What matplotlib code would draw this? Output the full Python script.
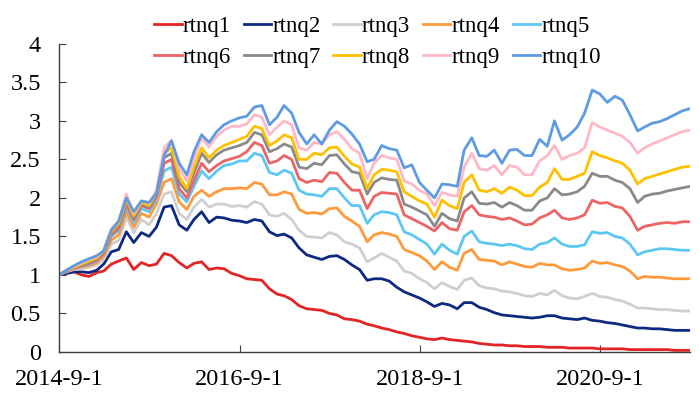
import numpy as np
import pandas as pd
import matplotlib
matplotlib.use('Agg')
import matplotlib.pyplot as plt
import matplotlib.dates as mdates

# month-end points, 2014-08-31 .. 2021-08-31 (85 values per series)
dates = pd.date_range('2014-08-31', periods=85, freq='ME')

rtnq1 = [1.00, 1.02, 1.04, 1.00, 0.98, 1.03, 1.05, 1.14, 1.18, 1.22,
         1.07, 1.16, 1.12, 1.14, 1.28, 1.25, 1.16, 1.09, 1.15, 1.17,
         1.07, 1.09, 1.08, 1.02, 0.99, 0.95, 0.94, 0.93, 0.82, 0.75,
         0.73, 0.68, 0.60, 0.56, 0.55, 0.54, 0.50, 0.48, 0.43, 0.42,
         0.40, 0.36, 0.34, 0.31, 0.29, 0.26, 0.24, 0.21, 0.19, 0.17,
         0.16, 0.18, 0.16, 0.15, 0.14, 0.13, 0.11, 0.10, 0.09, 0.09,
         0.08, 0.08, 0.07, 0.07, 0.07, 0.06, 0.06, 0.06, 0.05, 0.05,
         0.05, 0.05, 0.04, 0.04, 0.04, 0.04, 0.03, 0.03, 0.03, 0.03,
         0.03, 0.03, 0.02, 0.02, 0.02]
rtnq2 = [1.00, 1.02, 1.04, 1.04, 1.03, 1.06, 1.14, 1.30, 1.33, 1.56,
         1.42, 1.55, 1.50, 1.62, 1.88, 1.90, 1.65, 1.58, 1.72, 1.82,
         1.68, 1.75, 1.74, 1.71, 1.70, 1.68, 1.72, 1.70, 1.56, 1.51,
         1.53, 1.48, 1.35, 1.26, 1.23, 1.20, 1.24, 1.25, 1.20, 1.13,
         1.07, 0.93, 0.95, 0.95, 0.92, 0.84, 0.78, 0.74, 0.70, 0.65,
         0.59, 0.63, 0.61, 0.56, 0.64, 0.64, 0.58, 0.55, 0.51, 0.48,
         0.47, 0.46, 0.45, 0.44, 0.45, 0.47, 0.47, 0.44, 0.43, 0.42,
         0.44, 0.41, 0.40, 0.38, 0.37, 0.35, 0.33, 0.31, 0.31, 0.30,
         0.30, 0.29, 0.28, 0.28, 0.28]
rtnq3 = [1.00, 1.04, 1.07, 1.08, 1.10, 1.13, 1.20, 1.40, 1.45, 1.75,
         1.55, 1.72, 1.65, 1.80, 2.05, 2.08, 1.80, 1.72, 1.88, 1.98,
         1.88, 1.92, 1.92, 1.89, 1.90, 1.88, 1.95, 1.92, 1.78, 1.76,
         1.80, 1.72, 1.58, 1.50, 1.49, 1.48, 1.55, 1.52, 1.43, 1.40,
         1.35, 1.17, 1.22, 1.28, 1.23, 1.18, 1.05, 1.02, 0.95, 0.90,
         0.82, 0.90, 0.85, 0.81, 0.93, 0.96, 0.86, 0.83, 0.82, 0.79,
         0.78, 0.76, 0.73, 0.72, 0.76, 0.74, 0.80, 0.73, 0.70, 0.69,
         0.72, 0.76, 0.72, 0.71, 0.68, 0.66, 0.62, 0.57, 0.57, 0.56,
         0.55, 0.55, 0.54, 0.53, 0.53]
rtnq4 = [1.00, 1.05, 1.08, 1.10, 1.12, 1.16, 1.24, 1.45, 1.52, 1.82,
         1.62, 1.80, 1.75, 1.92, 2.20, 2.25, 1.95, 1.85, 2.02, 2.10,
         2.02, 2.08, 2.12, 2.12, 2.13, 2.12, 2.20, 2.18, 2.04, 2.04,
         2.08, 2.05, 1.85, 1.80, 1.81, 1.79, 1.86, 1.87, 1.76, 1.70,
         1.63, 1.43, 1.52, 1.55, 1.53, 1.50, 1.33, 1.29, 1.25, 1.18,
         1.07, 1.17, 1.10, 1.06, 1.28, 1.33, 1.20, 1.19, 1.18, 1.13,
         1.17, 1.14, 1.11, 1.10, 1.15, 1.13, 1.13, 1.08, 1.06, 1.07,
         1.09, 1.18, 1.15, 1.16, 1.13, 1.11, 1.05, 0.95, 0.98, 0.97,
         0.97, 0.96, 0.95, 0.95, 0.95]
rtnq5 = [1.00, 1.05, 1.09, 1.11, 1.14, 1.18, 1.27, 1.50, 1.58, 1.88,
         1.68, 1.86, 1.82, 1.98, 2.35, 2.40, 2.05, 1.95, 2.15, 2.35,
         2.25, 2.35, 2.42, 2.44, 2.48, 2.48, 2.58, 2.55, 2.33, 2.30,
         2.36, 2.32, 2.10, 2.05, 2.04, 2.02, 2.12, 2.12, 2.00, 1.90,
         1.90, 1.67, 1.78, 1.82, 1.81, 1.78, 1.56, 1.52, 1.46, 1.40,
         1.27, 1.40, 1.32, 1.27, 1.50, 1.57, 1.43, 1.41, 1.40, 1.38,
         1.40, 1.38, 1.34, 1.33, 1.40, 1.42, 1.48, 1.40, 1.37, 1.37,
         1.39, 1.56, 1.54, 1.55, 1.50, 1.48, 1.40, 1.26, 1.30, 1.32,
         1.34, 1.34, 1.33, 1.32, 1.32]
rtnq6 = [1.00, 1.05, 1.09, 1.12, 1.15, 1.19, 1.28, 1.52, 1.61, 1.92,
         1.72, 1.90, 1.86, 2.02, 2.45, 2.50, 2.12, 2.00, 2.22, 2.45,
         2.34, 2.42, 2.48, 2.51, 2.54, 2.60, 2.72, 2.68, 2.45, 2.48,
         2.55, 2.50, 2.25, 2.20, 2.23, 2.21, 2.33, 2.32, 2.20, 2.10,
         2.10, 1.86, 2.02, 2.07, 2.06, 2.05, 1.78, 1.73, 1.68, 1.63,
         1.57, 1.68, 1.60, 1.58, 1.82, 1.90, 1.78, 1.76, 1.75, 1.72,
         1.74, 1.70, 1.65, 1.66, 1.74, 1.78, 1.84, 1.74, 1.72, 1.74,
         1.78, 1.97, 1.93, 1.94, 1.89, 1.87, 1.76, 1.58, 1.63, 1.65,
         1.67, 1.68, 1.67, 1.69, 1.69]
rtnq7 = [1.00, 1.05, 1.10, 1.13, 1.16, 1.21, 1.30, 1.55, 1.65, 1.96,
         1.75, 1.92, 1.88, 2.05, 2.52, 2.58, 2.20, 2.08, 2.32, 2.58,
         2.46, 2.56, 2.62, 2.65, 2.68, 2.72, 2.85, 2.82, 2.60, 2.64,
         2.70, 2.66, 2.40, 2.38, 2.45, 2.43, 2.55, 2.56, 2.44, 2.34,
         2.32, 2.05, 2.20, 2.26, 2.24, 2.23, 1.92, 1.88, 1.83, 1.78,
         1.63, 1.80, 1.73, 1.70, 2.00, 2.08, 1.93, 1.92, 1.94, 1.88,
         1.94, 1.90, 1.84, 1.84, 1.96, 2.00, 2.12, 2.04, 2.05, 2.08,
         2.15, 2.32, 2.28, 2.28, 2.23, 2.20, 2.12, 1.94, 2.02, 2.05,
         2.06, 2.09, 2.11, 2.13, 2.15]
rtnq8 = [1.00, 1.06, 1.10, 1.14, 1.18, 1.22, 1.31, 1.56, 1.67, 1.98,
         1.77, 1.94, 1.90, 2.07, 2.58, 2.65, 2.28, 2.12, 2.40, 2.65,
         2.52, 2.62, 2.68, 2.72, 2.76, 2.80, 2.93, 2.90, 2.68, 2.74,
         2.82, 2.78, 2.50, 2.50, 2.58, 2.56, 2.65, 2.66, 2.54, 2.44,
         2.40, 2.12, 2.30, 2.37, 2.36, 2.34, 2.08, 2.02, 1.96, 1.92,
         1.75, 1.97, 1.90, 1.86, 2.20, 2.30, 2.10, 2.08, 2.12, 2.06,
         2.14, 2.10, 2.03, 2.03, 2.14, 2.20, 2.38, 2.24, 2.24, 2.28,
         2.32, 2.60, 2.55, 2.52, 2.48, 2.45, 2.36, 2.18, 2.25, 2.28,
         2.31, 2.34, 2.37, 2.40, 2.41]
rtnq9 = [1.00, 1.06, 1.11, 1.16, 1.20, 1.24, 1.32, 1.60, 1.70, 2.05,
         1.80, 1.96, 1.93, 2.10, 2.65, 2.75, 2.38, 2.22, 2.50, 2.78,
         2.66, 2.80, 2.88, 2.93, 2.93, 2.96, 3.08, 3.05, 2.82, 2.92,
         3.00, 2.95, 2.65, 2.62, 2.72, 2.70, 2.82, 2.86, 2.76, 2.64,
         2.58, 2.25, 2.45, 2.55, 2.52, 2.50, 2.22, 2.18, 2.10, 2.05,
         1.90, 2.07, 2.04, 2.02, 2.40, 2.58, 2.38, 2.36, 2.42, 2.30,
         2.42, 2.40, 2.30, 2.30, 2.48, 2.55, 2.68, 2.50, 2.55, 2.58,
         2.65, 2.98, 2.92, 2.88, 2.84, 2.80, 2.72, 2.58, 2.65, 2.70,
         2.74, 2.78, 2.82, 2.86, 2.88]
rtnq10 = [1.00, 1.06, 1.12, 1.17, 1.21, 1.25, 1.31, 1.58, 1.70, 2.00,
          1.82, 1.96, 1.94, 2.06, 2.55, 2.74, 2.45, 2.30, 2.60, 2.82,
          2.72, 2.86, 2.95, 3.00, 3.04, 3.06, 3.18, 3.20, 2.95, 3.05,
          3.20, 3.10, 2.85, 2.70, 2.82, 2.70, 2.88, 2.99, 2.93, 2.83,
          2.70, 2.47, 2.50, 2.68, 2.64, 2.62, 2.39, 2.43, 2.20, 2.10,
          2.00, 2.18, 2.17, 2.15, 2.62, 2.78, 2.55, 2.54, 2.62, 2.45,
          2.62, 2.63, 2.55, 2.55, 2.76, 2.67, 3.00, 2.75, 2.82, 2.92,
          3.10, 3.40, 3.35, 3.24, 3.32, 3.27, 3.08, 2.87, 2.92, 2.97,
          2.99, 3.03, 3.08, 3.13, 3.16]

names = ['rtnq1', 'rtnq2', 'rtnq3', 'rtnq4', 'rtnq5',
         'rtnq6', 'rtnq7', 'rtnq8', 'rtnq9', 'rtnq10']
series = [rtnq1, rtnq2, rtnq3, rtnq4, rtnq5, rtnq6, rtnq7, rtnq8, rtnq9, rtnq10]
colors = ['#E32424', '#0E2A80', '#CFCFCF', '#FF9A3C', '#5CC8F2',
          '#EC6464', '#8A8A8A', '#FFC000', '#FFB8C6', '#5F9BE3']

xtick_dates = ['2014-09-01', '2016-09-01', '2018-09-01', '2020-09-01']
xtick_labels = ['2014-9-1', '2016-9-1', '2018-9-1', '2020-9-1']
ytick_vals = [0, 0.5, 1, 1.5, 2, 2.5, 3, 3.5, 4]

plt.rcParams['font.family'] = ['Liberation Serif', 'DejaVu Serif']
plt.rcParams['font.size'] = 17.5

fig = plt.figure(figsize=(6.99, 3.99), dpi=100)
ax = fig.add_axes([0.0844, 0.118, 0.9026, 0.772])

lines = []
for name, vals, c in zip(names, series, colors):
    ln, = ax.plot(dates, vals, color=c, lw=2.0, label=name)
    lines.append(ln)

ax.set_xlim(pd.Timestamp('2014-08-31'), pd.Timestamp('2021-08-31'))
ax.set_ylim(0, 4)
ax.set_yticks(ytick_vals)
ax.set_yticklabels(['%g' % v for v in ytick_vals])
ax.set_xticks([mdates.date2num(pd.Timestamp(d)) for d in xtick_dates])
ax.set_xticklabels(xtick_labels)

for s in ['top', 'right']:
    ax.spines[s].set_visible(False)
for s in ['left', 'bottom']:
    ax.spines[s].set_color('#404040')
    ax.spines[s].set_linewidth(1.0)
ax.tick_params(axis='y', direction='in', length=5, pad=13, color='#404040')
ax.tick_params(axis='x', direction='in', length=5, pad=12, color='#404040')

# legend fills row by row in the original: reorder for matplotlib's column fill
order = [0, 5, 1, 6, 2, 7, 3, 8, 4, 9]
fig.legend([lines[i] for i in order], [names[i] for i in order],
           loc='upper center', bbox_to_anchor=(0.54, 1.0), ncol=5, frameon=False,
           fontsize=16.5, handlelength=1.2, handletextpad=0.05, columnspacing=0.55,
           labelspacing=0.45, borderaxespad=0.3)

fig.savefig('out.png', dpi=100)
